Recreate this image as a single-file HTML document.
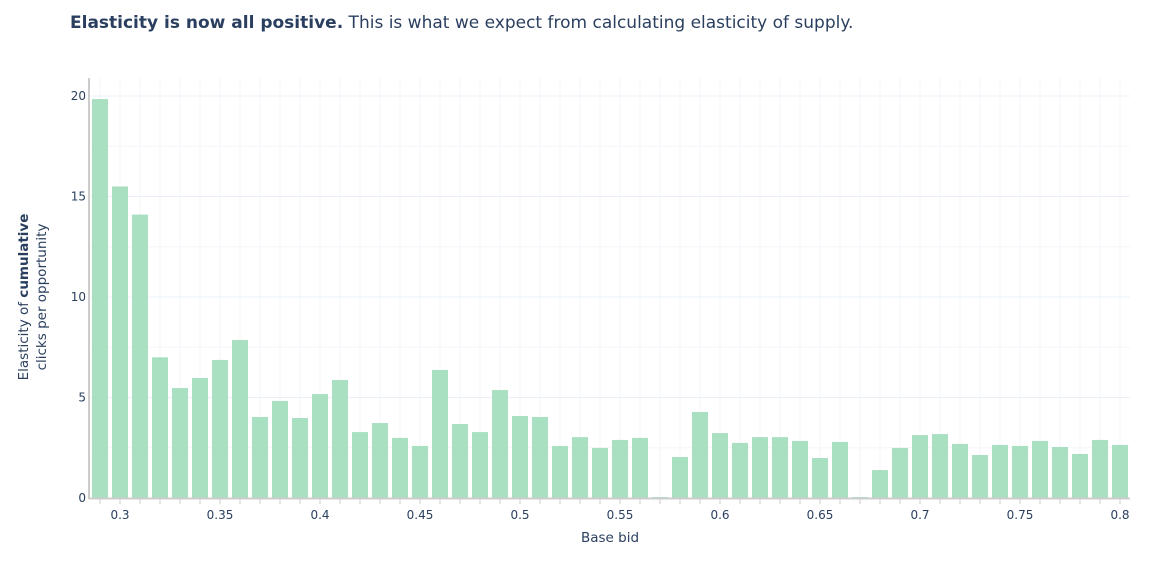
<!DOCTYPE html>
<html><head><meta charset="utf-8"><style>
body{margin:0;background:#fff;font-family:"DejaVu Sans","Liberation Sans",sans-serif;}
</style></head><body>
<svg id="chart" width="1153" height="563" style="display:block;font-family:'DejaVu Sans','Liberation Sans',sans-serif">
<text x="70" y="28" font-size="17" fill="#2a3f5f"><tspan font-weight="bold">Elasticity is now all positive.</tspan> This is what we expect from calculating elasticity of supply.</text>
<g id="grid"></g><g id="bars"></g><g id="axes"></g>
<text x="610" y="542" font-size="13.5" fill="#2a3f5f" text-anchor="middle">Base bid</text>
<text transform="translate(28,297) rotate(-90)" font-size="13.5" fill="#2a3f5f" text-anchor="middle">Elasticity of <tspan font-weight="bold">cumulative</tspan></text>
<text transform="translate(46,297) rotate(-90)" font-size="13.5" fill="#2a3f5f" text-anchor="middle">clicks per opportunity</text>
</svg>
<script>
const bids=[0.29,0.30,0.31,0.32,0.33,0.34,0.35,0.36,0.37,0.38,0.39,0.40,0.41,0.42,0.43,0.44,0.45,0.46,0.47,0.48,0.49,0.50,0.51,0.52,0.53,0.54,0.55,0.56,0.57,0.58,0.59,0.60,0.61,0.62,0.63,0.64,0.65,0.66,0.67,0.68,0.69,0.70,0.71,0.72,0.73,0.74,0.75,0.76,0.77,0.78,0.79,0.80];
const elasticity=[19.85,15.5,14.1,7.0,5.47,5.97,6.87,7.86,4.03,4.83,3.98,5.17,5.87,3.28,3.73,2.99,2.59,6.37,3.68,3.28,5.37,4.08,4.03,2.59,3.03,2.49,2.89,2.99,0.05,2.04,4.28,3.23,2.74,3.03,3.03,2.84,1.99,2.79,0.05,1.39,2.49,3.13,3.18,2.69,2.14,2.64,2.59,2.84,2.54,2.19,2.89,2.64];
const xTicks=[0.3,0.35,0.4,0.45,0.5,0.55,0.6,0.65,0.7,0.75,0.8];
const yTicks=[0,5,10,15,20];
const NS="http://www.w3.org/2000/svg";
const L=89,R=1130,T=78,B=498;
const X=v=>120+(v-0.3)*2000;
const Y=v=>B-v*20.1;
function mk(p,tag,at){const e=document.createElementNS(NS,tag);for(const k in at)e.setAttribute(k,at[k]);document.getElementById(p).appendChild(e);return e;}
for(let v=0.29;v<=0.8001;v+=0.01){
  const g=mk('grid','line',{x1:X(v),x2:X(v),y1:T,y2:B,stroke:'#f2f4f8','stroke-width':1});
  
  
  const t=mk('axes','line',{x1:X(v),x2:X(v),y1:B+1,y2:B+6,stroke:'#ccc','stroke-width':1});
  
  
}
for(let v=2.5;v<=20;v+=2.5){
  const g=mk('grid','line',{x1:L,x2:R,y1:Y(v),y2:Y(v),stroke:v%5===0?'#ebf0f8':'#f4f6fa','stroke-width':1});
  
  
}
bids.forEach((b,i)=>{
  const h=elasticity[i]*20.1;
  const r=mk('bars','rect',{x:X(b)-8,y:Y(elasticity[i]),width:16,height:h,fill:'#aae0c2'});
  
  
});
const ax=mk('axes','line',{x1:L,x2:R,y1:B+0.5,y2:B+0.5,stroke:'#ccc','stroke-width':2});


const ay=mk('axes','line',{x1:L,x2:L,y1:T,y2:B+1,stroke:'#ccc','stroke-width':2});


xTicks.forEach(v=>{
  const t=mk('axes','text',{x:X(v),y:B+21,'font-size':12,fill:'#2a3f5f','text-anchor':'middle'});
  t.textContent=String(v);
  
  
});
yTicks.forEach(v=>{
  const t=mk('axes','text',{x:L-3,y:Y(v)+4,'font-size':12,fill:'#2a3f5f','text-anchor':'end'});
  t.textContent=String(v);
  
  
});
</script>
</body></html>
